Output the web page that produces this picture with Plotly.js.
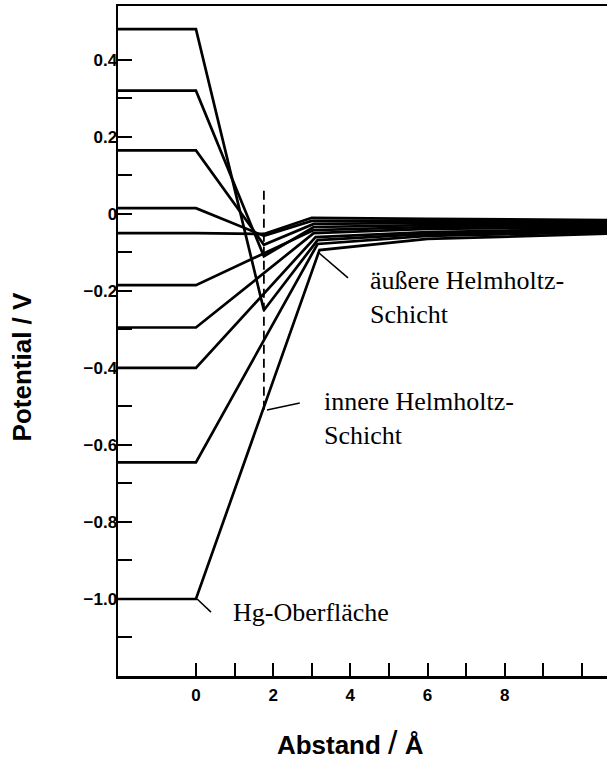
<!DOCTYPE html>
<html>
<head>
<meta charset="utf-8">
<script src="https://cdn.plot.ly/plotly-3.0.1.min.js"></script>
<style>html,body{margin:0;padding:0;background:#fff;}#chart{width:607px;height:782px;}</style>
</head>
<body>
<div id="chart"></div>
<script>
// ---- data ----
// distances (Å) of the profile points
const bulkMetalX = -2.1;          // start of metal (left edge)
const surfaceX = 0;               // Hg surface
const innerHelmholtzX = 1.76;     // inner Helmholtz plane
const midDiffuseX = 6;            // point inside diffuse layer
const farDiffuseX = 10.8;         // right end

// one entry per curve
const surfacePotential = [0.48, 0.32, 0.165, 0.015, -0.05, -0.185, -0.295, -0.40, -0.645, -1.00];
const innerPotential   = [-0.25, -0.11, -0.08, -0.057, -0.052, null, null, null, null, null];
const outerDistance    = [3.15, 3.05, 3.05, 3.0, 3.0, 3.05, 3.05, 3.1, 3.15, 3.2];
const outerPotential   = [-0.068, -0.034, -0.026, -0.018, -0.01, -0.042, -0.05, -0.06, -0.078, -0.094];
const midPotential     = [-0.052, -0.029, -0.023, -0.018, -0.013, -0.034, -0.039, -0.047, -0.057, -0.065];
const farPotential     = [-0.043, -0.027, -0.023, -0.019, -0.016, -0.031, -0.035, -0.039, -0.047, -0.051];

// dashed inner Helmholtz marker
const ihpLineX = [1.76, 1.76];
const ihpLineY = [0.06, -0.51];

// tick labels
const xTickVals = [0, 1, 2, 3, 4, 5, 6, 7, 8, 9, 10];
const xTickText = ['0', '', '2', '', '4', '', '6', '', '8', '', ''];
const yTickVals = [0.4, 0.3, 0.2, 0.1, 0, -0.1, -0.2, -0.3, -0.4, -0.5, -0.6, -0.7, -0.8, -0.9, -1.0, -1.1];
const yTickText = ['0.4', '', '0.2', '', '0', '', '\u22120.2', '', '\u22120.4', '', '\u22120.6', '', '\u22120.8', '', '\u22121.0', ''];

// labels and their pointer lines
const labelTexts = ['äußere Helmholtz-<br>Schicht', 'innere Helmholtz-<br>Schicht', 'Hg-Oberfläche'];
const labelX = [4.46, 3.26, 0.9];
const labelY = [-0.218, -0.532, -1.034];
const pointerX0 = [3.16, 1.84, 0.03];
const pointerY0 = [-0.099, -0.509, -1.0];
const pointerX1 = [3.94, 2.69, 0.39];
const pointerY1 = [-0.166, -0.491, -1.034];

// ---- build traces ----
const traces = surfacePotential.map((p0, i) => ({
  type: 'scatter',
  mode: 'lines',
  x: [bulkMetalX, surfaceX, innerHelmholtzX, outerDistance[i], midDiffuseX, farDiffuseX],
  y: [p0, p0, innerPotential[i], outerPotential[i], midPotential[i], farPotential[i]],
  connectgaps: true,
  line: {color: '#000', width: 2.7},
  hoverinfo: 'skip',
  showlegend: false
}));
traces.push({
  type: 'scatter', mode: 'lines', x: ihpLineX, y: ihpLineY,
  line: {color: '#000', width: 1.8, dash: '9px,5px'},
  hoverinfo: 'skip', showlegend: false
});

const serif = 'Liberation Serif, Times New Roman, serif';
const sans = 'Liberation Sans, Arial, sans-serif';
const pad = (s) => "<span style='fill:#ffffff'>" + s + "</span>";

const annotations = labelTexts.map((t, i) => ({
  x: labelX[i], y: labelY[i], xref: 'x', yref: 'y',
  text: t, showarrow: false, xanchor: 'left', yanchor: 'middle', align: 'left',
  font: {family: serif, size: 26, color: '#000'}
}));
const shapes = pointerX0.map((x0, i) => ({
  type: 'line', xref: 'x', yref: 'y',
  x0: x0, y0: pointerY0[i], x1: pointerX1[i], y1: pointerY1[i],
  line: {color: '#000', width: 1.5}
}));

const layout = {
  width: 607, height: 782,
  margin: {l: 118, r: 0, t: 6, b: 106},
  paper_bgcolor: '#fff', plot_bgcolor: '#fff',
  showlegend: false,
  xaxis: {
    range: [-2.02, 10.65],
    showline: true, linecolor: '#000', linewidth: 2.5, mirror: true,
    showgrid: false, zeroline: false,
    ticks: 'inside', ticklen: 13, tickwidth: 2, tickcolor: '#000',
    tickmode: 'array', tickvals: xTickVals, ticktext: xTickText,
    tickfont: {family: sans, size: 17, color: '#000', weight: 'bold'},
    ticklabelstandoff: 2,
    title: {
      text: "Abstand <span style='font-size:34px;font-weight:normal'>/</span> Å" + pad('W'),
      font: {family: sans, size: 26, color: '#000', weight: 'bold'},
      standoff: 32
    },
    automargin: false
  },
  yaxis: {
    range: [-1.2, 0.54],
    showline: true, linecolor: '#000', linewidth: 2.5,
    showgrid: false, zeroline: false,
    ticks: 'inside', ticklen: 14, tickwidth: 2, tickcolor: '#000',
    tickmode: 'array', tickvals: yTickVals, ticktext: yTickText,
    tickfont: {family: sans, size: 17, color: '#000', weight: 'bold'},
    ticklabelstandoff: -5,
    title: {
      text: 'Potential / V' + pad('VVV'),
      font: {family: sans, size: 26, color: '#000', weight: 'bold'},
      standoff: 45
    },
    automargin: false
  },
  annotations: annotations,
  shapes: shapes
};

Plotly.newPlot('chart', traces, layout, {staticPlot: true, displayModeBar: false});
</script>
</body>
</html>
